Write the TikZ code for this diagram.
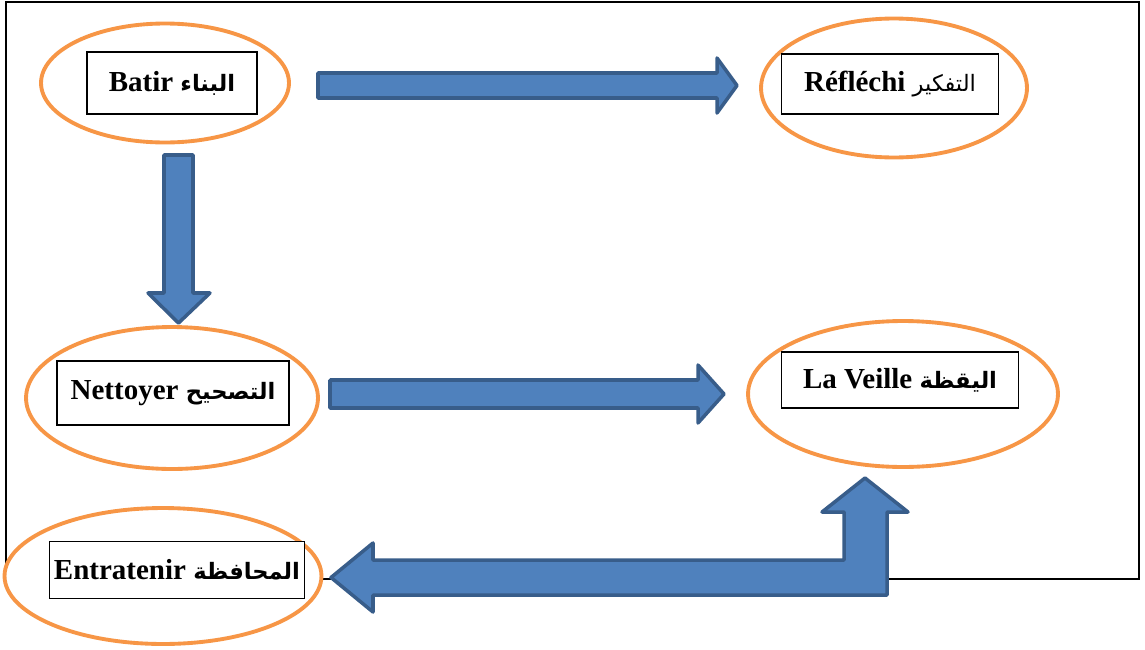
\documentclass[tikz,border=0pt]{standalone}
\usepackage{fontspec}
\setmainfont{Liberation Serif}
\newfontfamily\arabicfont[Script=Arabic,Scale=0.78]{DejaVu Sans}
\TeXXeTstate=1
\usepackage{tikz}
\usetikzlibrary{positioning,shapes.geometric}
\definecolor{ovalcol}{RGB}{247,150,70}
\definecolor{arrfill}{RGB}{79,129,189}
\definecolor{arrline}{RGB}{56,93,138}
\newcommand{\ar}[1]{{\arabicfont\beginR #1\endR}}

\begin{document}
\begin{tikzpicture}[
  x=0.02cm, y=-0.02cm,
  every node/.style={font=\fontsize{16.5}{19}\selectfont\bfseries},
  oval/.style={ellipse, draw=ovalcol, line width=2.2pt, fill=white, inner sep=0pt},
  lbox/.style={draw=black, line width=0.9pt, fill=white, inner sep=0pt, align=center},
  blockarr/.style={fill=arrfill, draw=arrline, line width=2pt, line join=round},
]
\useasboundingbox (0,0) rectangle (1145,649);
\draw[line width=1.2pt] (6,2) rectangle (1139,579);
% ovals
\node[oval, minimum width=4.96cm, minimum height=2.38cm] (obatir) at (165,83) {};
\node[oval, minimum width=5.32cm, minimum height=2.78cm] (oreflechi) at (894,88) {};
\node[oval, minimum width=5.84cm, minimum height=2.84cm] (onettoyer) at (172,398) {};
\node[oval, minimum width=6.20cm, minimum height=2.92cm] (oveille) at (903,394) {};
\node[oval, minimum width=6.34cm, minimum height=2.72cm] (oentretenir) at (163,576) {};
% labels
\node[lbox, minimum width=3.40cm, minimum height=1.24cm] (batir) at (172,83) {Batir \ar{البناء}};
\node[lbox, minimum width=4.34cm, minimum height=1.20cm] (reflechi) at (890,84) {Réfléchi \ar{\mdseries التفكير}};
\node[lbox, minimum width=4.64cm, minimum height=1.28cm] (nettoyer) at (173,393) {Nettoyer \ar{التصحيح}};
\node[lbox, minimum width=4.74cm, minimum height=1.12cm] (veille) at (900,380) {La Veille \ar{اليقظة}};
\node[lbox, minimum width=5.10cm, minimum height=1.14cm] (entretenir) at (177,570) {Entratenir \ar{المحافظة}};
% block arrows
\draw[blockarr] (318,73) -- (717,73) -- (717,58) -- (737,85.5) -- (717,113) -- (717,98) -- (318,98) -- cycle;
\draw[blockarr] (164,155) -- (193,155) -- (193,293) -- (210,293) -- (178.5,323) -- (148,293) -- (164,293) -- cycle;
\draw[blockarr] (330,380) -- (698,380) -- (698,365) -- (724,394) -- (698,423) -- (698,408) -- (330,408) -- cycle;
\draw[blockarr] (331,577.5) -- (373,543) -- (373,560) -- (844,560) -- (844,512) -- (822,512) -- (865,478)
  -- (908,512) -- (887,512) -- (887,595) -- (373,595) -- (373,612) -- cycle;
\end{tikzpicture}
\end{document}
